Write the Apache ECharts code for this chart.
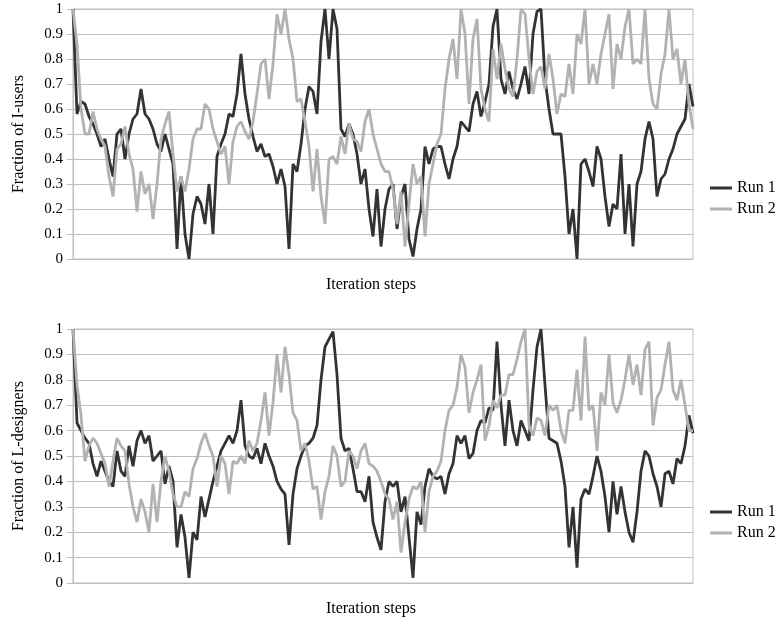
<!DOCTYPE html>
<html>
<head>
<meta charset="utf-8">
<script src="https://cdn.jsdelivr.net/npm/echarts@6/dist/echarts.min.js"></script>
<style>
    html, body { margin: 0; padding: 0; background: #fff; }
    #chart { width: 780px; height: 624px; }
</style>
</head>
<body>
<div id="chart"></div>
<script>
// values, one point every ~4 px of the plot
let users_run1 = [1.0, 0.58, 0.63, 0.62, 0.57, 0.54, 0.5, 0.45, 0.48, 0.4, 0.33, 0.5, 0.52, 0.4, 0.5, 0.56, 0.58, 0.68, 0.58, 0.56,
    0.52, 0.46, 0.43, 0.5, 0.44, 0.38, 0.04, 0.33, 0.1, 0.0, 0.18, 0.25, 0.22, 0.14, 0.3, 0.1, 0.41, 0.46, 0.5,
    0.58, 0.57, 0.66, 0.82, 0.66, 0.56, 0.49, 0.43, 0.46, 0.41, 0.42, 0.37, 0.3, 0.36, 0.29, 0.04, 0.38, 0.35, 0.46, 0.6,
    0.69, 0.67, 0.58, 0.87, 1.0, 0.8, 1.0, 0.92, 0.52, 0.49, 0.54, 0.5, 0.42, 0.3, 0.36, 0.2, 0.09, 0.28, 0.05, 0.2,
    0.28, 0.3, 0.12, 0.25, 0.3, 0.08, 0.01, 0.12, 0.2, 0.45, 0.38, 0.44, 0.45, 0.45, 0.38, 0.32, 0.4, 0.45, 0.55, 0.53,
    0.51, 0.62, 0.67, 0.57, 0.63, 0.7, 0.93, 1.0, 0.72, 0.66, 0.75, 0.68, 0.64, 0.7, 0.77, 0.66, 0.9, 0.99, 1.0, 0.72,
    0.6, 0.5, 0.5, 0.5, 0.33, 0.1, 0.2, 0.0, 0.38, 0.4, 0.35, 0.29, 0.45, 0.4, 0.25, 0.13, 0.22, 0.2, 0.42, 0.1,
    0.3, 0.05, 0.3, 0.35, 0.48, 0.55, 0.48, 0.25, 0.32, 0.34, 0.4, 0.44, 0.5, 0.53, 0.56, 0.7, 0.61];
let users_run2 = [1.0, 0.86, 0.6, 0.5, 0.5, 0.59, 0.52, 0.48, 0.45, 0.33, 0.25, 0.44, 0.46, 0.53, 0.42, 0.36, 0.19, 0.35, 0.26, 0.3,
    0.16, 0.3, 0.48, 0.54, 0.59, 0.42, 0.27, 0.33, 0.27, 0.36, 0.48, 0.52, 0.52, 0.62, 0.6, 0.52, 0.47, 0.42, 0.45,
    0.3, 0.47, 0.53, 0.55, 0.51, 0.48, 0.55, 0.66, 0.78, 0.8, 0.64, 0.78, 0.98, 0.9, 1.0, 0.88, 0.8, 0.63, 0.64, 0.55,
    0.45, 0.27, 0.44, 0.25, 0.14, 0.4, 0.41, 0.38, 0.49, 0.42, 0.54, 0.48, 0.47, 0.43, 0.55, 0.6, 0.5, 0.44, 0.38, 0.35,
    0.35, 0.28, 0.14, 0.27, 0.05, 0.22, 0.38, 0.3, 0.33, 0.09, 0.3, 0.38, 0.46, 0.5, 0.68, 0.8, 0.88, 0.72, 1.0, 0.9,
    0.62, 0.88, 0.96, 0.68, 0.6, 0.55, 0.84, 0.72, 0.86, 0.76, 0.68, 0.65, 0.8, 1.0, 0.98, 0.8, 0.66, 0.75, 0.77, 0.68,
    0.82, 0.72, 0.58, 0.66, 0.65, 0.78, 0.66, 0.9, 0.86, 1.0, 0.7, 0.78, 0.7, 0.82, 0.9, 0.98, 0.68, 0.86, 0.8, 0.93,
    1.0, 0.78, 0.8, 0.78, 1.0, 0.72, 0.62, 0.6, 0.74, 0.82, 1.0, 0.8, 0.84, 0.7, 0.8, 0.62, 0.52];
let designers_run1 = [1.0, 0.63, 0.6, 0.57, 0.55, 0.47, 0.42, 0.48, 0.44, 0.4, 0.38, 0.52, 0.44, 0.42, 0.54, 0.46, 0.56, 0.6, 0.55, 0.58,
    0.48, 0.5, 0.52, 0.39, 0.46, 0.4, 0.14, 0.27, 0.18, 0.02, 0.2, 0.17, 0.34, 0.26, 0.33, 0.4, 0.46, 0.52, 0.55,
    0.58, 0.55, 0.6, 0.72, 0.54, 0.5, 0.49, 0.53, 0.47, 0.55, 0.5, 0.46, 0.4, 0.37, 0.35, 0.15, 0.35, 0.45, 0.5, 0.54,
    0.55, 0.57, 0.62, 0.8, 0.93, 0.96, 0.99, 0.82, 0.57, 0.52, 0.53, 0.45, 0.36, 0.36, 0.32, 0.42, 0.24, 0.18, 0.13, 0.32,
    0.4, 0.38, 0.4, 0.28, 0.34, 0.18, 0.02, 0.28, 0.23, 0.38, 0.45, 0.42, 0.41, 0.42, 0.35, 0.43, 0.47, 0.58, 0.55, 0.58,
    0.49, 0.51, 0.6, 0.64, 0.63, 0.69, 0.68, 0.95, 0.7, 0.54, 0.72, 0.6, 0.54, 0.64, 0.6, 0.56, 0.76, 0.93, 1.0, 0.78,
    0.57, 0.56, 0.55, 0.48, 0.38, 0.14, 0.3, 0.06, 0.33, 0.37, 0.35, 0.42, 0.5, 0.44, 0.34, 0.2, 0.4, 0.27, 0.38, 0.28,
    0.2, 0.16, 0.28, 0.44, 0.52, 0.5, 0.43, 0.38, 0.3, 0.43, 0.44, 0.39, 0.49, 0.47, 0.54, 0.66, 0.59];
let designers_run2 = [1.0, 0.78, 0.66, 0.48, 0.54, 0.57, 0.55, 0.51, 0.47, 0.38, 0.48, 0.57, 0.54, 0.52, 0.39, 0.3, 0.24, 0.33, 0.28, 0.2,
    0.39, 0.24, 0.4, 0.5, 0.44, 0.35, 0.3, 0.3, 0.36, 0.34, 0.45, 0.49, 0.55, 0.59, 0.54, 0.5, 0.38, 0.5, 0.47,
    0.35, 0.48, 0.47, 0.5, 0.47, 0.56, 0.52, 0.55, 0.64, 0.75, 0.58, 0.71, 0.9, 0.75, 0.93, 0.82, 0.67, 0.64, 0.52, 0.55,
    0.48, 0.37, 0.38, 0.25, 0.36, 0.42, 0.54, 0.5, 0.38, 0.4, 0.52, 0.5, 0.45, 0.52, 0.55, 0.47, 0.46, 0.44, 0.4, 0.35,
    0.33, 0.25, 0.32, 0.12, 0.24, 0.33, 0.38, 0.37, 0.4, 0.2, 0.36, 0.42, 0.44, 0.48, 0.6, 0.68, 0.7, 0.77, 0.9, 0.85,
    0.67, 0.75, 0.8, 0.86, 0.56, 0.62, 0.72, 0.69, 0.74, 0.74, 0.82, 0.82, 0.88, 0.95, 1.0, 0.62, 0.58, 0.65, 0.64, 0.58,
    0.7, 0.68, 0.7, 0.6, 0.55, 0.68, 0.68, 0.84, 0.64, 0.97, 0.68, 0.7, 0.52, 0.75, 0.7, 0.9, 0.71, 0.67, 0.72, 0.8,
    0.9, 0.78, 0.86, 0.74, 0.92, 0.95, 0.62, 0.73, 0.76, 0.86, 0.95, 0.76, 0.72, 0.8, 0.7, 0.6, 0.6];

let run_names = ['Run 1', 'Run 2'];
let panel_titles = ['Fraction of I-users', 'Fraction of L-designers'];
let x_title = 'Iteration steps';

let fontFamily = '"Liberation Serif", "DejaVu Serif", serif';
let dark = '#333333';
let light = '#b2b2b2';
let gridColor = '#bfbfbf';

// iteration index for the category axis
let steps = [];
for (let i = 0; i < users_run1.length; i++) {
    steps.push(i + 1);
}

function make_x_axis(index) {
    return {
        type: 'category',
        gridIndex: index,
        data: steps,
        boundaryGap: false,
        name: x_title,
        nameLocation: 'middle',
        nameGap: 18,
        nameTextStyle: {fontFamily: fontFamily, fontSize: 16, color: '#000', padding: [0, 24, 0, 0]},
        axisLine: {lineStyle: {color: gridColor}},
        axisTick: {show: false},
        axisLabel: {show: false},
        splitLine: {show: false}
    };
}

function make_y_axis(index, title) {
    return {
        type: 'value',
        gridIndex: index,
        min: 0,
        max: 1,
        interval: 0.1,
        name: title,
        nameLocation: 'middle',
        nameGap: 46,
        nameTextStyle: {fontFamily: fontFamily, fontSize: 16, color: '#000'},
        axisLine: {show: true, lineStyle: {color: gridColor}},
        axisTick: {show: true, length: 6, lineStyle: {color: gridColor}},
        axisLabel: {fontFamily: fontFamily, fontSize: 15, color: '#000', margin: 10},
        splitLine: {lineStyle: {color: gridColor}}
    };
}

function make_line(name, index, values, color) {
    return {
        name: name,
        type: 'line',
        xAxisIndex: index,
        yAxisIndex: index,
        data: values,
        symbol: 'none',
        animation: false,
        lineStyle: {color: color, width: 2.8},
        itemStyle: {color: color}
    };
}

function make_legend(top) {
    return {
        data: run_names,
        orient: 'vertical',
        left: 710,
        top: top,
        padding: 0,
        icon: 'rect',
        itemWidth: 22,
        itemHeight: 3,
        itemGap: 5,
        textStyle: {fontFamily: fontFamily, fontSize: 16, color: '#000', padding: [0, 0, 0, 0]}
    };
}

let chart = echarts.init(document.getElementById('chart'), null, {renderer: 'canvas'});
chart.setOption({
    animation: false,
    backgroundColor: '#fff',
    grid: [
        {left: 73, right: 87, top: 9, height: 250, show: true, borderColor: gridColor, borderWidth: 1},
        {left: 73, right: 87, top: 329, height: 254, show: true, borderColor: gridColor, borderWidth: 1}
    ],
    legend: [make_legend(180), make_legend(504)],
    xAxis: [make_x_axis(0), make_x_axis(1)],
    yAxis: [make_y_axis(0, panel_titles[0]), make_y_axis(1, panel_titles[1])],
    series: [
        make_line(run_names[0], 0, users_run1, dark),
        make_line(run_names[1], 0, users_run2, light),
        make_line(run_names[0], 1, designers_run1, dark),
        make_line(run_names[1], 1, designers_run2, light)
    ]
});
</script>
</body>
</html>
